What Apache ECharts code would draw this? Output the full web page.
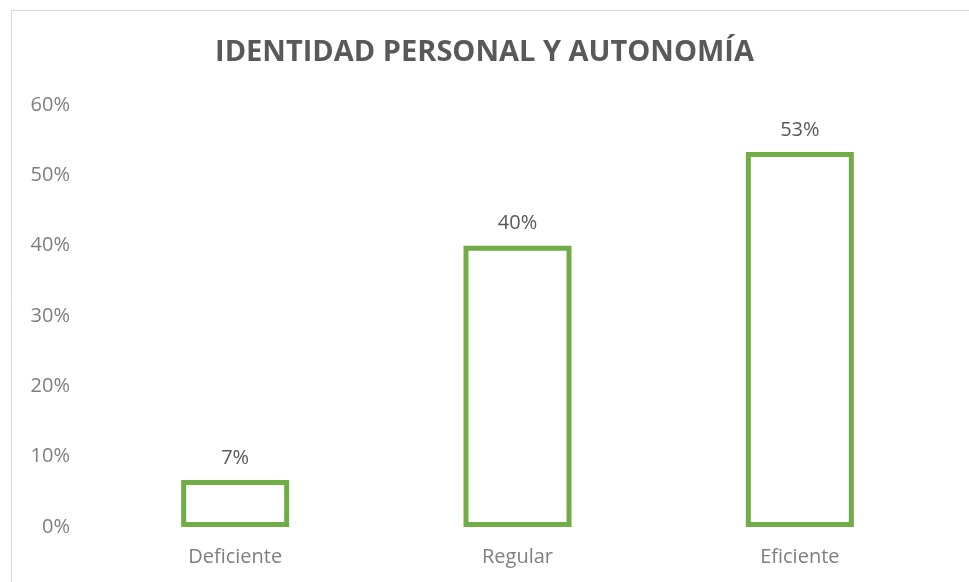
<!DOCTYPE html>
<html>
<head>
<meta charset="utf-8">
<script src="https://cdn.jsdelivr.net/npm/echarts@6/dist/echarts.min.js"></script>
<style>
  html, body { margin: 0; padding: 0; background: #fff; }
  #chartContainer { width: 969px; height: 582px; }
</style>
</head>
<body>
<div id="chartContainer"></div>
<script>
var chartTitle = 'IDENTIDAD PERSONAL Y AUTONOMÍA';
var categories = ['Deficiente', 'Regular', 'Eficiente'];
var percentValues = [6.67, 40, 53.33];
var percentLabels = ['7%', '40%', '53%'];

var chartDom = document.getElementById('chartContainer');
var chart = echarts.init(chartDom);

var option = {
  backgroundColor: '#fff',
  animation: false,
  title: {
    text: chartTitle,
    left: 'center',
    top: 33,
    textStyle: {
      fontFamily: 'Open Sans',
      fontWeight: 'bold',
      fontSize: 29,
      color: '#595959'
    }
  },
  graphic: [{
    type: 'rect',
    shape: { x: 11.5, y: 10.5, width: 1000, height: 1000 },
    style: { fill: 'none', stroke: '#d9d9d9', lineWidth: 1 },
    silent: true
  }],
  grid: {
    left: 94,
    right: 28,
    top: 105,
    bottom: 55,
    containLabel: false
  },
  xAxis: {
    type: 'category',
    data: categories,
    axisLine: { show: false },
    axisTick: { show: false },
    axisLabel: {
      fontFamily: 'Open Sans',
      fontSize: 20,
      color: '#7f7f7f',
      margin: 20
    }
  },
  yAxis: {
    type: 'value',
    min: 0,
    max: 60,
    interval: 10,
    axisLine: { show: false },
    axisTick: { show: false },
    splitLine: { show: false },
    axisLabel: {
      fontFamily: 'Open Sans',
      fontSize: 20,
      color: '#7f7f7f',
      margin: 24,
      formatter: '{value}%'
    }
  },
  series: [{
    type: 'bar',
    data: percentValues,
    barWidth: 108,
    itemStyle: {
      color: '#ffffff',
      borderColor: '#70ad47',
      borderWidth: 5
    },
    label: {
      show: true,
      position: 'top',
      distance: 12,
      fontFamily: 'Open Sans',
      fontSize: 20,
      color: '#595959',
      formatter: function (p) {
        return percentLabels[p.dataIndex];
      }
    }
  }]
};

chart.setOption(option);
</script>
</body>
</html>
